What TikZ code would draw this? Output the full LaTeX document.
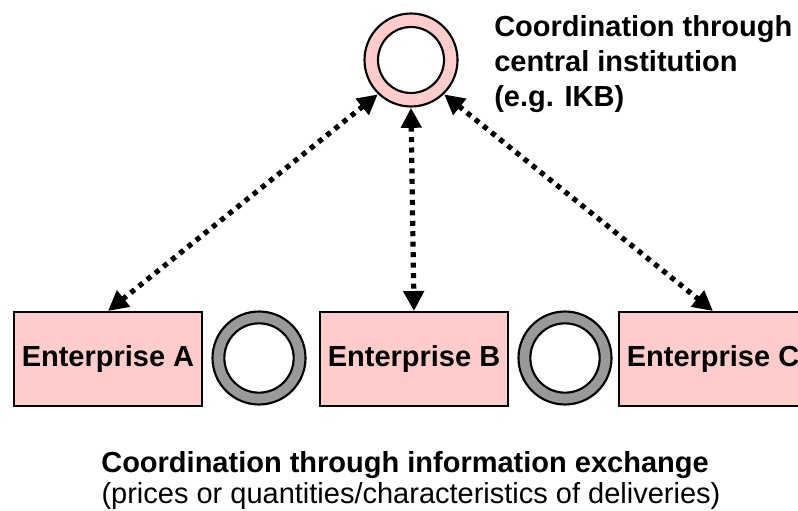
\documentclass[tikz,border=0pt]{standalone}
\usepackage{fontspec}
\setmainfont{Liberation Sans}
\usetikzlibrary{arrows.meta}
\definecolor{pinkfill}{HTML}{FFCCCC}
\definecolor{ringgray}{HTML}{999999}
\begin{document}
\begin{tikzpicture}[x=0.75pt,y=-0.75pt,
  txt/.style={font=\fontsize{21.75}{25.9}\selectfont},
  boldtxt/.style={font=\fontsize{21.75}{25.9}\selectfont\bfseries},
  entbox/.style={draw, line width=1.5pt, fill=pinkfill, minimum width=141pt, minimum height=70.5pt, inner sep=0pt, boldtxt},
  outerring/.style={circle, draw, line width=1.6pt, minimum size=69.75pt, inner sep=0pt, outer sep=1pt},
  hole/.style={circle, draw, line width=1.6pt, fill=white, inner sep=0pt},
  link/.style={line width=3.9pt, dash pattern=on 3.75pt off 4.1pt,
    {Triangle[length=15pt,width=15pt]}-{Triangle[length=15pt,width=15pt]}}
]
\useasboundingbox (0,0) rectangle (798,510);
\clip (0,0) rectangle (798,510);

% central institution ring
\node[outerring, fill=pinkfill] (ikb) at (411,60) {};
\node[hole, minimum size=49.5pt] (ikbhole) at (ikb) {};

% enterprises
\node[entbox] (entA) at (108,359) {Enterprise A};
\node[entbox] (entB) at (414,359) {Enterprise B};
\node[entbox] (entC) at (713,359) {Enterprise C};

% exchange rings
\node[outerring, fill=ringgray] (ring1) at (259,358) {};
\node[hole, minimum size=52pt] (hole1) at (ring1) {};
\node[outerring, fill=ringgray] (ring2) at (565,358) {};
\node[hole, minimum size=52pt] (hole2) at (ring2) {};

% links
\draw[link] (ikb.-134) -- (entA.north);
\draw[link] (ikb.south) -- (entB.north);
\draw[link] (ikb.-46) -- (entC.north);

% texts
\node[boldtxt, anchor=base west, align=left, inner sep=0pt] (ikbtext) at (494,106)
  {Coordination through\\central institution\\(e.g. IKB)};
\node[boldtxt, anchor=base, inner sep=0pt] (bot1) at (405,472) {Coordination through information exchange};
\node[txt, anchor=base, inner sep=0pt] (bot2) at (411,503) {(prices or quantities/characteristics of deliveries)};
\end{tikzpicture}
\end{document}
